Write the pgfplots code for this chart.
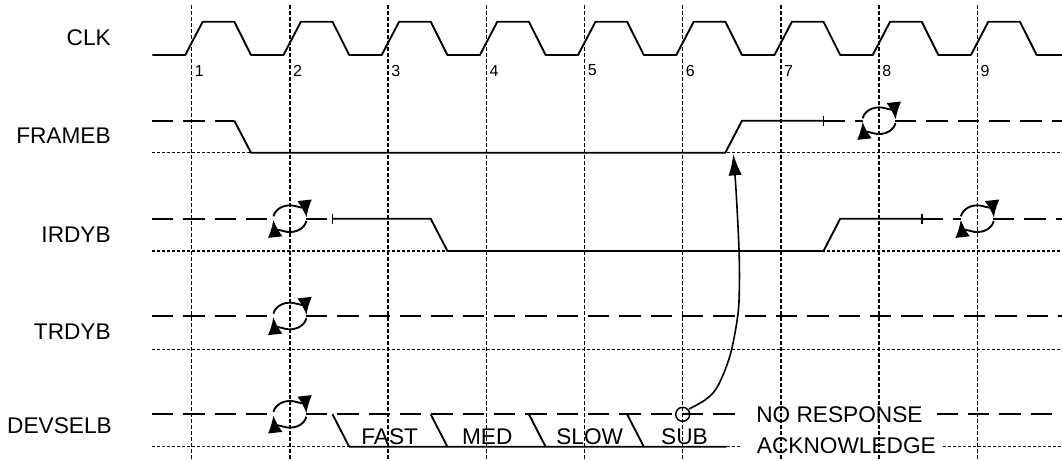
\documentclass[border=0pt]{standalone}
\usepackage{fontspec}
\setmainfont{Liberation Sans}
\usepackage{pgfplots}
\pgfplotsset{compat=1.18}
\usetikzlibrary{arrows.meta}

% positions are read in pixels of the 1062x460 picture, 1px = 0.75pt
\tikzset{
  sig/.style={black, line width=1.4pt, line join=round},
  hi/.style={sig, dash pattern=on 16pt off 7.5pt},
  lo/.style={black, line width=1pt, dash pattern=on 2.25pt off 1.5pt},
  grd/.style={black, line width=1.1pt, dash pattern=on 3pt off 1.5pt},
  lbl/.style={font=\fontsize{17}{20}\selectfont, inner sep=0pt},
}
% the round "don't care" symbol
\newcommand{\cyc}[2]{%
  \draw[sig, -{Latex[length=13pt,width=11pt]}] (axis cs:#1,#2) ++(170:12.5pt and 10pt)
    arc[start angle=170, end angle=5, x radius=12.5pt, y radius=10pt];
  \draw[sig, -{Latex[length=13pt,width=11pt]}] (axis cs:#1,#2) ++(-10:12.5pt and 10pt)
    arc[start angle=-10, end angle=-175, x radius=12.5pt, y radius=10pt];
}

\begin{document}
\begin{tikzpicture}
\begin{axis}[width=796.5pt, height=345pt, scale only axis,
  xmin=0, xmax=1062, ymin=0, ymax=460, y dir=reverse,
  hide axis, clip=false, unbounded coords=jump]

% clock edges
\addplot[grd] coordinates {
  (191.7,5) (191.7,460) (nan,nan)
  (289.9,5) (289.9,460) (nan,nan)
  (388.1,5) (388.1,460) (nan,nan)
  (486.3,5) (486.3,460) (nan,nan)
  (584.5,5) (584.5,460) (nan,nan)
  (682.7,5) (682.7,460) (nan,nan)
  (780.9,5) (780.9,460) (nan,nan)
  (879.1,5) (879.1,460) (nan,nan)
  (977.3,5) (977.3,460)
};

% low levels
\addplot[lo] coordinates {
  (152,152.7) (1062,152.7) (nan,nan)
  (152,251) (1062,251) (nan,nan)
  (152,349.3) (1062,349.3) (nan,nan)
  (152,446.7) (741.7,446.7) (nan,nan)
  (943.3,446.7) (1062,446.7)
};

% CLK
\addplot[sig] coordinates {
  (152.3,55)
  (185.3,55) (202.7,21.7) (234.3,21.7) (251.0,55)
  (283.5,55) (300.9,21.7) (332.5,21.7) (349.2,55)
  (381.7,55) (399.1,21.7) (430.7,21.7) (447.4,55)
  (479.9,55) (497.3,21.7) (528.9,21.7) (545.6,55)
  (578.1,55) (595.5,21.7) (627.1,21.7) (643.8,55)
  (676.3,55) (693.7,21.7) (725.3,21.7) (742.0,55)
  (774.5,55) (791.9,21.7) (823.5,21.7) (840.2,55)
  (872.7,55) (890.1,21.7) (921.7,21.7) (938.4,55)
  (970.9,55) (988.3,21.7) (1019.9,21.7) (1036.6,55)
  (1062,55)
};

% FRAMEB
\addplot[hi] coordinates {(152,120.7) (234.3,120.7) (nan,nan) (823.5,120.7) (863,120.7) (nan,nan) (895,120.7) (1062,120.7)};
\addplot[sig] coordinates {(234.3,120.7) (251,152.7) (725.3,152.7) (742,120.7) (823.5,120.7)};
\addplot[sig] coordinates {(823.5,115.7) (823.5,125.7)};

% IRDYB
\addplot[hi] coordinates {(152,218.7) (274,218.7) (nan,nan) (306,218.7) (332.5,218.7) (nan,nan) (921.7,218.7) (961,218.7) (nan,nan) (993,218.7) (1062,218.7)};
\addplot[sig] coordinates {(332.5,218.7) (430.7,218.7) (447.4,251) (823.5,251) (840.2,218.7) (921.7,218.7)};
\addplot[sig] coordinates {(332.5,213.7) (332.5,223.7) (nan,nan) (921.7,213.7) (921.7,223.7)};

% TRDYB
\addplot[hi] coordinates {(152,316) (274,316) (nan,nan) (306,316) (1062,316)};

% DEVSELB
\addplot[hi] coordinates {(152,414.3) (274,414.3) (nan,nan) (306,414.3) (741.7,414.3) (nan,nan) (936.7,414.3) (1062,414.3)};
\addplot[sig] coordinates {
  (332.5,414.3) (349.2,446.7) (nan,nan)
  (430.7,414.3) (447.4,446.7) (nan,nan)
  (528.9,414.3) (545.6,446.7) (nan,nan)
  (627.1,414.3) (643.8,446.7) (nan,nan)
  (349.2,446.7) (726.7,446.7)
};

% DEVSELB -> FRAMEB
\addplot[sig, line width=1.2pt, smooth, tension=0.6, -{Latex[length=16pt,width=10pt]}] coordinates {
  (689,409) (705,400) (716,389) (725,370) (731.7,349) (737.7,316)
  (739.3,290) (739,250) (736,190) (733.3,154)
};

\cyc{289.9}{218.7}
\cyc{977.3}{218.7}
\cyc{879.1}{120.7}
\cyc{289.9}{316}
\cyc{289.9}{414.3}
\draw[sig, line width=1.1pt] (axis cs:682.7,414.3) circle[radius=5.25pt];

% names
\node[lbl, anchor=east] at (axis cs:111,37.7) {CLK};
\node[lbl, anchor=east] at (axis cs:111,136) {FRAMEB};
\node[lbl, anchor=east] at (axis cs:111,234.5) {IRDYB};
\node[lbl, anchor=east] at (axis cs:111,331.7) {TRDYB};
\node[lbl, anchor=east] at (axis cs:112,426) {DEVSELB};

\node[lbl] at (axis cs:389.7,437) {FAST};
\node[lbl] at (axis cs:487.2,437) {MED};
\node[lbl] at (axis cs:589.7,437) {SLOW};
\node[lbl] at (axis cs:684.5,437) {SUB};
\node[lbl, anchor=west] at (axis cs:756,414.3) {NO RESPONSE};
\node[lbl, anchor=west] at (axis cs:756.7,445.5) {ACKNOWLEDGE};

% clock numbers
\foreach \k/\x in {1/191.7,2/289.9,3/388.1,4/486.3,5/584.5,6/682.7,7/780.9,8/879.1,9/977.3}{
  \edef\tmp{\noexpand\node[inner sep=0pt, anchor=west, font=\noexpand\fontsize{12}{14}\noexpand\selectfont]
    at (axis cs:\x+3,70.5) {\k};}\tmp
}
\end{axis}
\pgfresetboundingbox
\path (current axis.south west) rectangle (current axis.north east);
\end{tikzpicture}
\end{document}
